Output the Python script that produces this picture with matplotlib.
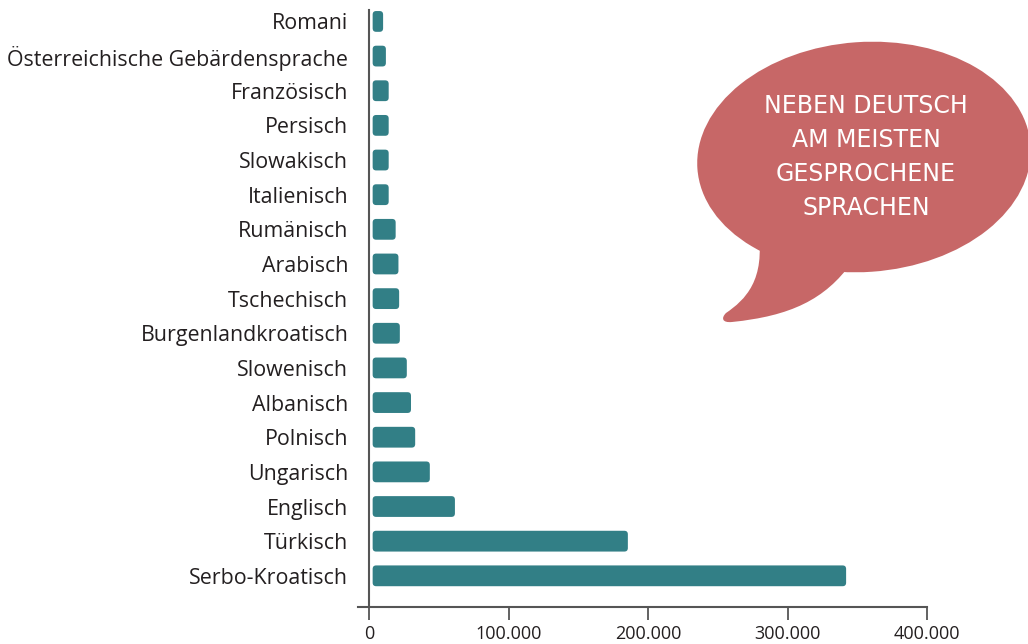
import matplotlib.pyplot as plt
from matplotlib.patches import FancyBboxPatch, Ellipse, PathPatch
from matplotlib.path import Path
from matplotlib.ticker import FuncFormatter

# Daten (von unten nach oben)
sprachen = ["Serbo-Kroatisch", "Türkisch", "Englisch", "Ungarisch", "Polnisch",
            "Albanisch", "Slowenisch", "Burgenlandkroatisch", "Tschechisch",
            "Arabisch", "Rumänisch", "Italienisch", "Slowakisch", "Persisch",
            "Französisch", "Österreichische Gebärdensprache", "Romani"]
sprecher = [342000, 185500, 61500, 43500, 33000, 30000, 27000, 22000, 21500,
            21000, 19000, 14000, 14000, 14000, 14000, 12000, 10000]
xticks = [0, 100000, 200000, 300000, 400000]

bar_color = "#327f86"
bubble_color = "#c76767"
axis_color = "#555555"
text_color = "#231f20"
font = ["Open Sans", "DejaVu Sans"]
plt.rcParams["font.family"] = font

W, H = 1028, 644
fig = plt.figure(figsize=(W / 100, H / 100), dpi=100)
ax = fig.add_axes([358 / W, 37 / H, 569 / W, 597 / H])

ax.set_xlim(-8000, 400000)
ax.set_ylim(-0.9, len(sprachen) - 0.67)

# Rundung der Balken: Verhältnis der Achsen-Einheiten pro Pixel
x_per_px = 408000 / 569
y_per_px = (len(sprachen) - 0.67 + 0.9) / 597
aspect = y_per_px / x_per_px
r_px = 3.5
h = 0.6
for i, v in enumerate(sprecher):
    p = FancyBboxPatch((2500, i - h / 2), v - 2500, h,
                       boxstyle=f"round,pad=0,rounding_size={r_px * x_per_px}",
                       mutation_aspect=aspect, facecolor=bar_color,
                       edgecolor="none", clip_on=True)
    ax.add_patch(p)

ax.set_yticks(range(len(sprachen)))
ax.set_yticklabels(sprachen)
ax.tick_params(axis="y", length=0, pad=15, labelsize=15.4, labelcolor=text_color)
ax.set_xticks(xticks)
ax.xaxis.set_major_formatter(FuncFormatter(lambda v, p: f"{int(v):,}".replace(",", ".")))
ax.tick_params(axis="x", length=9, width=1.3, color=axis_color, pad=4,
               labelsize=13, labelcolor=text_color)

for s in ["top", "right"]:
    ax.spines[s].set_visible(False)
ax.spines["left"].set_position(("data", 0))
ax.spines["left"].set_color(axis_color)
ax.spines["left"].set_linewidth(1.5)
ax.spines["bottom"].set_color(axis_color)
ax.spines["bottom"].set_linewidth(1.5)

# Sprechblase
bx = fig.add_axes([0, 0, 1, 1])
bx.set_xlim(0, W)
bx.set_ylim(H, 0)
bx.axis("off")
bx.patch.set_alpha(0)
bx.add_patch(Ellipse((864, 157), 334, 230, angle=-4, facecolor=bubble_color, edgecolor="none"))
verts = [(758, 230), (766, 280), (745, 300), (726, 313),
         (721, 318), (722, 323), (732, 322),
         (790, 316), (825, 300), (852, 262), (758, 230)]
codes = [Path.MOVETO, Path.CURVE4, Path.CURVE4, Path.CURVE4,
         Path.CURVE4, Path.CURVE4, Path.CURVE4,
         Path.CURVE4, Path.CURVE4, Path.CURVE4, Path.CLOSEPOLY]
bx.add_patch(PathPatch(Path(verts, codes), facecolor=bubble_color, edgecolor="none"))

zeilen = ["NEBEN DEUTSCH", "AM MEISTEN", "GESPROCHENE", "SPRACHEN"]
for k, z in enumerate(zeilen):
    bx.text(866, 106 + k * 34, z, ha="center", va="center", color="white",
            fontsize=17, family=["DejaVu Sans"], fontweight="normal")

fig.savefig("out.png", dpi=100)
